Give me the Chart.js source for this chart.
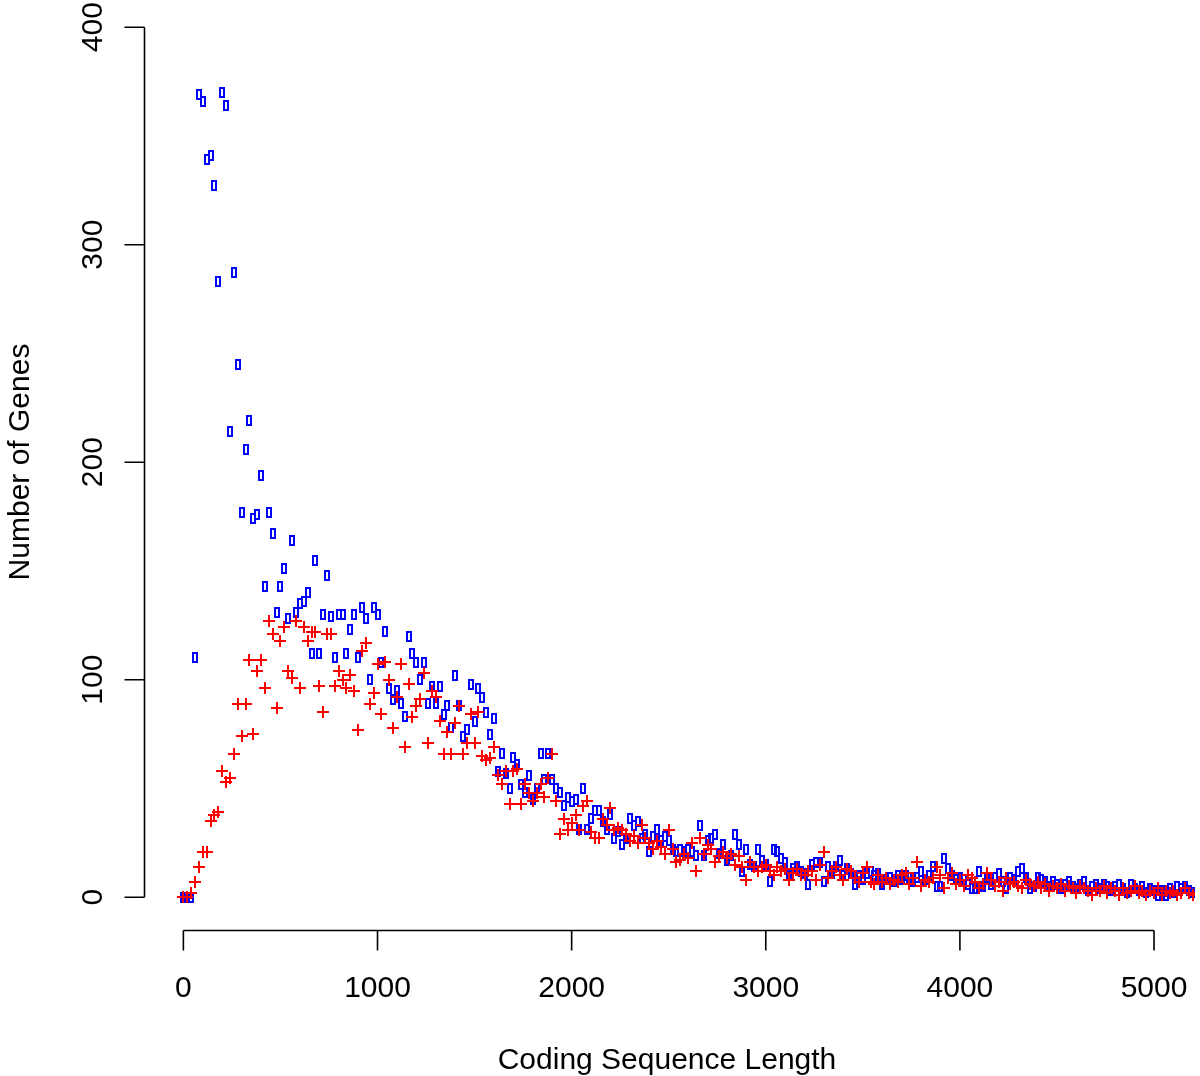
<!DOCTYPE html>
<html>
<head>
<meta charset="utf-8">
<title>Number of Genes by Coding Sequence Length</title>
<script src="https://cdn.jsdelivr.net/npm/chart.js@4.4.1/dist/chart.umd.min.js"></script>
<style>
html,body{margin:0;padding:0;background:#fff;overflow:hidden}
#wrap{width:1200px;height:1076px;position:relative}
</style>
</head>
<body>
<div id="wrap"><canvas id="chart" width="1200" height="1076"></canvas></div>
<script>
// ---------------- Data ----------------
// bin start (coding sequence length), one bin every 20
const lengths = [
  0,20,40,60,80,100,120,140,160,180,
  200,220,240,260,280,300,320,340,360,380,
  400,420,440,460,480,500,520,540,560,580,
  600,620,640,660,680,700,720,740,760,780,
  800,820,840,860,880,900,920,940,960,980,
  1000,1020,1040,1060,1080,1100,1120,1140,1160,1180,
  1200,1220,1240,1260,1280,1300,1320,1340,1360,1380,
  1400,1420,1440,1460,1480,1500,1520,1540,1560,1580,
  1600,1620,1640,1660,1680,1700,1720,1740,1760,1780,
  1800,1820,1840,1860,1880,1900,1920,1940,1960,1980,
  2000,2020,2040,2060,2080,2100,2120,2140,2160,2180,
  2200,2220,2240,2260,2280,2300,2320,2340,2360,2380,
  2400,2420,2440,2460,2480,2500,2520,2540,2560,2580,
  2600,2620,2640,2660,2680,2700,2720,2740,2760,2780,
  2800,2820,2840,2860,2880,2900,2920,2940,2960,2980,
  3000,3020,3040,3060,3080,3100,3120,3140,3160,3180,
  3200,3220,3240,3260,3280,3300,3320,3340,3360,3380,
  3400,3420,3440,3460,3480,3500,3520,3540,3560,3580,
  3600,3620,3640,3660,3680,3700,3720,3740,3760,3780,
  3800,3820,3840,3860,3880,3900,3920,3940,3960,3980,
  4000,4020,4040,4060,4080,4100,4120,4140,4160,4180,
  4200,4220,4240,4260,4280,4300,4320,4340,4360,4380,
  4400,4420,4440,4460,4480,4500,4520,4540,4560,4580,
  4600,4620,4640,4660,4680,4700,4720,4740,4760,4780,
  4800,4820,4840,4860,4880,4900,4920,4940,4960,4980,
  5000,5020,5040,5060,5080,5100,5120,5140,5160,5180,
  5200
];

// blue boxes
const blueCounts = [
  0,0,0,110,369,366,339,341,327,283,
  370,364,214,287,245,177,206,219,174,176,
  194,143,177,167,131,143,151,128,164,131,
  135,136,140,112,155,112,130,148,129,110,
  130,130,112,123,130,110,133,128,100,133,
  130,108,122,96,91,95,89,83,120,112,
  108,100,108,89,97,89,97,84,88,78,
  102,88,74,77,98,81,96,92,85,75,
  82,58,66,57,50,64,61,52,48,56,
  45,50,66,54,66,54,50,48,42,46,
  44,45,31,50,31,36,40,40,35,31,
  38,27,30,24,27,36,33,35,27,29,
  21,28,31,26,28,26,22,21,22,21,
  22,21,19,33,19,26,27,29,20,24,
  17,19,29,24,12,22,15,14,22,17,
  15,7,22,21,18,16,10,13,14,12,
  11,6,15,16,16,7,14,11,14,17,
  10,13,11,6,10,8,11,12,10,11,
  6,8,9,7,10,8,10,9,7,9,
  12,8,10,14,5,5,18,13,10,8,
  9,8,6,4,4,12,5,9,6,9,
  11,7,4,9,8,12,13,9,4,5,
  9,8,7,5,7,6,4,6,7,5,
  4,6,7,3,5,6,4,6,5,3,
  5,6,4,2,6,4,3,5,2,4,
  3,1,3,1,4,2,5,4,5,3,
  2
];

// red crosses
const redCounts = [
  0,0,2,7,14,21,21,35,38,39,
  58,53,55,66,89,74,89,109,75,104,
  109,96,127,121,87,118,124,104,101,127,
  96,124,118,122,122,97,85,121,121,97,
  104,100,96,102,95,77,113,117,89,94,
  107,84,108,100,78,92,107,69,98,83,
  88,91,103,71,95,92,81,66,76,66,
  80,88,66,71,84,71,85,65,63,64,
  69,56,52,58,43,58,59,43,52,48,
  44,48,52,46,55,66,44,29,36,31,
  34,38,31,42,44,30,27,27,36,33,
  41,31,32,31,29,26,28,25,33,27,
  25,22,26,23,20,31,22,16,17,20,
  18,25,12,27,20,24,22,16,19,21,
  18,20,15,19,14,8,16,14,12,14,
  15,12,10,14,12,13,8,11,13,10,
  10,12,12,8,15,21,9,12,14,10,
  8,13,12,9,7,11,14,7,6,10,
  7,9,6,8,7,10,11,6,9,16,
  5,8,7,9,14,10,4,9,11,6,
  8,5,10,9,7,4,6,11,8,5,
  7,3,9,6,7,5,4,8,6,5,
  7,4,6,3,5,4,6,3,5,4,
  2,5,4,3,1,4,3,5,2,4,
  3,1,4,2,3,5,2,3,1,3,
  2,4,1,3,2,3,1,2,4,2,
  1
];

const xTicks = [0, 1000, 2000, 3000, 4000, 5000];
const yTicks = [0, 100, 200, 300, 400];
const xTitle = 'Coding Sequence Length';
const yTitle = 'Number of Genes';

// ---------------- Markers ----------------
function boxMarker(){
  const c = document.createElement('canvas');
  c.width = 6; c.height = 11;
  const g = c.getContext('2d');
  g.strokeStyle = '#0000ff'; g.lineWidth = 2;
  g.strokeRect(1, 1, 4, 9);
  return c;
}
function plusMarker(){
  const c = document.createElement('canvas');
  c.width = 12; c.height = 12;
  const g = c.getContext('2d');
  g.fillStyle = '#ff0000';
  g.fillRect(0, 5, 12, 2);
  g.fillRect(5, 0, 2, 12);
  return c;
}

const toPoints = arr => lengths.map((l, i) => ({x: l, y: arr[i]}));

// ---------------- R style axes ----------------
const FONT = '30px "Liberation Sans", Arial, Helvetica, sans-serif';
const rAxes = {
  id: 'rAxes',
  beforeDatasetsDraw(chart){
    chart.ctx.imageSmoothingEnabled = false;
  },
  afterDraw(chart){
    const {ctx, chartArea} = chart;
    const x = chart.scales.x, y = chart.scales.y;
    ctx.save();
    ctx.strokeStyle = '#000'; ctx.fillStyle = '#000';
    ctx.lineWidth = 1.6; ctx.lineCap = 'butt';

    const ax = chartArea.left + 1.5;
    const ay = chartArea.bottom - 1.5;
    ctx.beginPath();
    ctx.moveTo(ax, y.getPixelForValue(yTicks[0]));
    ctx.lineTo(ax, y.getPixelForValue(yTicks[yTicks.length - 1]));
    y.ticks.forEach(t => { const py = y.getPixelForValue(t.value); ctx.moveTo(ax, py); ctx.lineTo(ax - 20, py); });
    ctx.moveTo(x.getPixelForValue(xTicks[0]), ay);
    ctx.lineTo(x.getPixelForValue(xTicks[xTicks.length - 1]), ay);
    x.ticks.forEach(t => { const px = x.getPixelForValue(t.value); ctx.moveTo(px, ay); ctx.lineTo(px, ay + 20); });
    ctx.stroke();

    ctx.font = FONT;
    ctx.textAlign = 'center';
    ctx.textBaseline = 'alphabetic';
    x.ticks.forEach(t => ctx.fillText(String(t.value), x.getPixelForValue(t.value), 997));
    y.ticks.forEach(t => {
      ctx.save();
      ctx.translate(102, y.getPixelForValue(t.value));
      ctx.rotate(-Math.PI / 2);
      ctx.fillText(String(t.value), 0, 0);
      ctx.restore();
    });

    ctx.fillText(xTitle, 667, 1069);
    ctx.save();
    ctx.translate(29, 462);
    ctx.rotate(-Math.PI / 2);
    ctx.fillText(yTitle, 0, 0);
    ctx.restore();
    ctx.restore();
  }
};

// ---------------- Chart ----------------
new Chart(document.getElementById('chart'), {
  type: 'scatter',
  data: {
    datasets: [
      {label: 'red', data: toPoints(redCounts), pointStyle: plusMarker(), pointRadius: 6, order: 0, clip: 0},
      {label: 'blue', data: toPoints(blueCounts), pointStyle: boxMarker(), pointRadius: 5, order: 1, clip: 0}
    ]
  },
  options: {
    responsive: false,
    animation: false,
    devicePixelRatio: 1,
    layout: {autoPadding: false, padding: {left: 143, right: 5, top: 0, bottom: 144}},
    plugins: {legend: {display: false}, tooltip: {enabled: false}},
    scales: {
      x: {type: 'linear', min: -208, max: 5211, display: false,
          afterBuildTicks: s => { s.ticks = xTicks.map(v => ({value: v})); }},
      y: {type: 'linear', min: -16, max: 412.5, display: false,
          afterBuildTicks: s => { s.ticks = yTicks.map(v => ({value: v})); }}
    }
  },
  plugins: [rAxes]
});
</script>
</body>
</html>
